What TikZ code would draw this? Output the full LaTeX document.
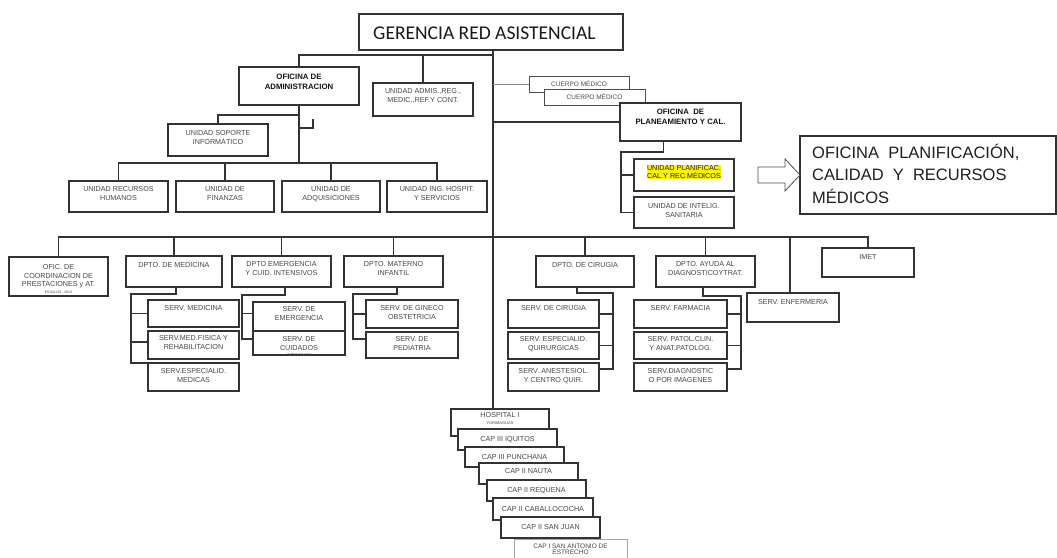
\documentclass[tikz,border=0pt]{standalone}
\usepackage{fontspec}
\setmainfont{Liberation Sans}
\newfontfamily\calib{Carlito}
\tikzset{
 box/.style={draw=black!80, line width=1.1pt, fill=white, inner sep=0pt, outer sep=0pt},
 thinbox/.style={line width=0.7pt, draw=black!70},
 faintbox/.style={line width=0.6pt, draw=black!35},
 txt/.style={anchor=north, inner sep=0pt, align=center, text=black!72, font=\fontsize{7.2}{8.5}\selectfont},
 btxt/.style={font=\fontsize{7.8}{9.6}\selectfont\bfseries, text=black!92},
 ln/.style={draw=black!80, line width=1.1pt},
 tln/.style={draw=black!45, line width=0.6pt},
}
% name, x1, y1, x2, y2, box style, text, text style
\newcommand\orgb[8]{%
  \node[box,#6,minimum width={#4-#2},minimum height={#5-#3}] (#1) at ({(#2+#4)/2},{(#3+#5)/2}) {};
  \node[txt,#8] (#1-t) at ([yshift=-5.4pt]#1.north) {#7};
}
\begin{document}
\begin{tikzpicture}[x=1pt,y=-1pt]
\useasboundingbox (0,0) rectangle (1057,557);
\clip (0,0) rectangle (1057,557);

% top
\node[box,minimum width=264,minimum height=36] (ger) at (491,32) {};
\node[anchor=west,inner sep=0pt,font=\calib\fontsize{19.5}{22}\selectfont,text=black!90] (gert) at (373,33) {GERENCIA RED ASISTENCIAL};

\orgb{adm}{239}{67}{359}{105}{}{OFICINA DE\\ADMINISTRACION}{btxt,yshift=-1.6pt}
\orgb{adms}{373}{83}{473}{116}{}{UNIDAD ADMIS.,REG.,\\MEDIC.,REF.Y CONT.}{}
\orgb{sop}{168}{124}{268}{156}{}{UNIDAD SOPORTE\\INFORMÁTICO}{yshift=-1pt}
\orgb{rrhh}{69}{181}{168}{212}{}{UNIDAD RECURSOS\\HUMANOS}{}
\orgb{fin}{176}{181}{274}{212}{}{UNIDAD DE\\FINANZAS}{}
\orgb{adq}{282}{181}{380}{212}{}{UNIDAD DE\\ADQUISICIONES}{}
\orgb{ing}{387}{181}{487}{212}{}{UNIDAD ING. HOSPIT.\\Y SERVICIOS}{}

\orgb{cm1}{529}{76}{629}{92}{thinbox}{CUERPO MÉDICO}{font=\fontsize{6.5}{8}\selectfont,yshift=1pt}
\orgb{cm2}{544}{89}{645}{105}{thinbox}{CUERPO MÉDICO}{font=\fontsize{6.5}{8}\selectfont,yshift=1pt}
\orgb{ofp}{620}{103}{741}{141}{}{OFICINA\ \ DE\\PLANEAMIENTO Y CAL.}{btxt,yshift=-0.8pt}
\orgb{upl}{634}{159}{734}{191}{}{UNIDAD PLANIFICAC.\\CAL.Y REC.MÉDICOS}{fill=yellow,inner sep=0.4pt,text=black!85}
\orgb{uin}{634}{197}{734}{228}{}{UNIDAD DE INTELIG.\\SANITARIA}{yshift=-1pt}

\node[box,minimum width=256,minimum height=78] (big) at (928,175) {};
\node[anchor=north west,inner sep=0pt,align=left,font=\fontsize{16.5}{22.5}\selectfont,text=black!88] (bigt) at (812,143.5) {OFICINA\ \ PLANIFICACIÓN,\\CALIDAD\ \ Y\ \ RECURSOS\\MÉDICOS};
\draw[draw=black!70,line width=0.8pt,fill=white] ([shift={(-42,-8)}]big.west) -- ++(27,0) -- ++(0,-8) -- (big.west) -- ++(-15,16) -- ++(0,-8) -- ++(-27,0) -- cycle;

% departments
\orgb{ofc}{9}{257}{108}{296}{}{OFIC. DE\\COORDINACION DE\\PRESTACIONES y AT.\\[-1.5pt]{\fontsize{3.5}{4}\selectfont ESSALUD - 2014}}{yshift=-2pt}
\orgb{med}{126}{256}{222}{287}{}{DPTO. DE MEDICINA}{yshift=-1pt}
\orgb{emg}{232}{256}{331}{287}{}{DPTO EMERGENCIA\\Y CUID. INTENSIVOS}{}
\orgb{mat}{344}{256}{443}{287}{}{DPTO. MATERNO\\INFANTIL}{}
\orgb{smed}{148}{300}{239}{327}{}{SERV. MEDICINA}{}
\orgb{sfis}{148}{331}{239}{359}{}{SERV.MED.FISICA Y\\REHABILITACION}{yshift=1pt}
\orgb{sesp}{148}{363}{239}{391}{}{SERV.ESPECIALID.\\MEDICAS}{}
\orgb{semg}{253}{302}{345}{331}{}{SERV. DE\\EMERGENCIA}{yshift=1pt}
\orgb{scui}{253}{331}{345}{355}{}{SERV. DE\\CUIDADOS\\[-2.5pt]{\fontsize{4}{4}\selectfont INTENSIVOS}}{}
\orgb{sgin}{366}{300}{458}{328}{}{SERV. DE GINECO\\OBSTETRICIA}{}
\orgb{sped}{366}{332}{458}{358}{}{SERV. DE\\PEDIATRIA}{yshift=1pt}

\orgb{cir}{536}{256}{634}{287}{}{DPTO. DE CIRUGIA}{yshift=-1pt}
\orgb{ayu}{656}{256}{755}{287}{}{DPTO. AYUDA AL\\DIAGNOSTICOYTRAT.}{}
\orgb{imet}{822}{248}{914}{277}{}{IMET}{yshift=-1pt}
\orgb{enf}{747}{293}{839}{322}{}{SERV. ENFERMERIA}{yshift=-1pt}
\orgb{scir}{508}{300}{599}{328}{}{SERV. DE CIRUGIA}{}
\orgb{sesq}{508}{332}{599}{359}{}{SERV. ESPECIALID.\\QUIRURGICAS}{yshift=1pt}
\orgb{sane}{508}{363}{599}{391}{}{SERV. ANESTESIOL.\\Y CENTRO QUIR.}{}
\orgb{sfar}{634}{300}{727}{328}{}{SERV. FARMACIA}{}
\orgb{spat}{634}{332}{727}{359}{}{SERV. PATOL.CLIN.\\Y ANAT.PATOLOG.}{yshift=1pt}
\orgb{sdia}{634}{363}{727}{391}{}{SERV.DIAGNOSTIC\\O POR IMAGENES}{}

% hospital stack
\orgb{hosp}{451}{409}{549}{436}{}{HOSPITAL I\\[-1.5pt]{\fontsize{4}{4}\selectfont YURIMAGUAS}}{yshift=2pt}
\orgb{iqu}{458}{429}{557}{450}{}{CAP III IQUITOS}{yshift=-2pt}
\orgb{pun}{465}{447}{564}{467}{}{CAP III PUNCHANA}{yshift=-2pt}
\orgb{nau}{479}{463}{578}{484}{}{CAP II NAUTA}{}
\orgb{req}{487}{480}{586}{501}{}{CAP II REQUENA}{yshift=-2pt}
\orgb{cab}{493}{498}{593}{520}{}{CAP II CABALLOCOCHA}{yshift=-3pt}
\orgb{sjn}{501}{517}{600}{538}{}{CAP II SAN JUAN}{yshift=-2pt}
\orgb{san}{514}{539}{627}{572}{faintbox}{CAP I SAN ANTONIO DE\\[-1.5pt]ESTRECHO}{yshift=1pt,font=\fontsize{6.5}{8}\selectfont}

% connectors
\coordinate (trunk) at ([xshift=2pt]ger.south);
\coordinate (busA) at (493,55);
\coordinate (busB) at (298,163);
\coordinate (sopj) at (298,115);
\coordinate (hk) at (298,128);
\coordinate (busM) at (493,237);
\coordinate (plx) at (621,152);
\coordinate (mv) at (131,294);
\coordinate (ev) at (242,295);
\coordinate (tv) at (353,294);
\coordinate (cv) at (613,293);
\coordinate (av) at (741,296);

\draw[ln] (trunk) -- (trunk |- hosp.north);
\draw[ln] (adm.north) |- (busA);
\draw[ln] (adms.north) -- (adms.north |- busA);
\draw[ln] (adm.south) -- (adm.south |- busB);
\draw[ln] (rrhh.north) |- (busB) -| (ing.north);
\draw[ln] (fin.north) -- (fin.north |- busB);
\draw[ln] (adq.north) -- (adq.north |- busB);
\draw[ln] (sop.north) |- (sopj);
\draw[ln] (hk) -- ++(15,0) -- ++(0,-9);

\draw[tln] (cm1.west) -- (cm1.west -| trunk);
\draw[ln] (ofp.west) -- (ofp.west -| trunk);
\draw[ln] ([xshift=-17pt]ofp.south) |- (plx) |- (uin.west);
\draw[ln] (plx |- upl.west) -- (upl.west);

\draw[ln] (ofc.north) |- (busM) -| (imet.north);
\draw[ln] (med.north) -- (med.north |- busM);
\draw[ln] (emg.north) -- (emg.north |- busM);
\draw[ln] (mat.north) -- (mat.north |- busM);
\draw[ln] (cir.north) -- (cir.north |- busM);
\draw[ln] (ayu.north) -- (ayu.north |- busM);
\draw[ln] ([xshift=-3pt]enf.north) -- ([xshift=-3pt]enf.north |- busM);

\draw[ln] ([xshift=2pt]med.south) |- (mv) |- (sesp.north west);
\draw[ln] (mv |- smed.west) -- (smed.west);
\draw[ln] ([yshift=3pt]mv |- sfis.west) -- ([yshift=3pt]sfis.west);

\draw[ln] ([xshift=3.5pt]emg.south) |- (ev) |- ([yshift=4pt]scui.west);
\draw[ln] ([yshift=3pt]ev |- semg.west) -- ([yshift=3pt]semg.west);

\draw[ln] ([xshift=3.5pt]mat.south) |- (tv) |- ([yshift=6pt]sped.west);
\draw[ln] (tv |- sgin.west) -- (sgin.west);

\draw[ln] ([xshift=-8pt]cir.south) |- (cv) |- ([yshift=8pt]sane.east);
\draw[ln] (cv |- scir.east) -- (scir.east);
\draw[ln] (cv |- sesq.east) -- (sesq.east);

\draw[ln] ([xshift=-2.5pt]ayu.south) |- (av) |- ([yshift=8pt]sdia.east);
\draw[ln] (av |- sfar.east) -- (sfar.east);
\draw[ln] (av |- spat.east) -- (spat.east);
\end{tikzpicture}
\end{document}
